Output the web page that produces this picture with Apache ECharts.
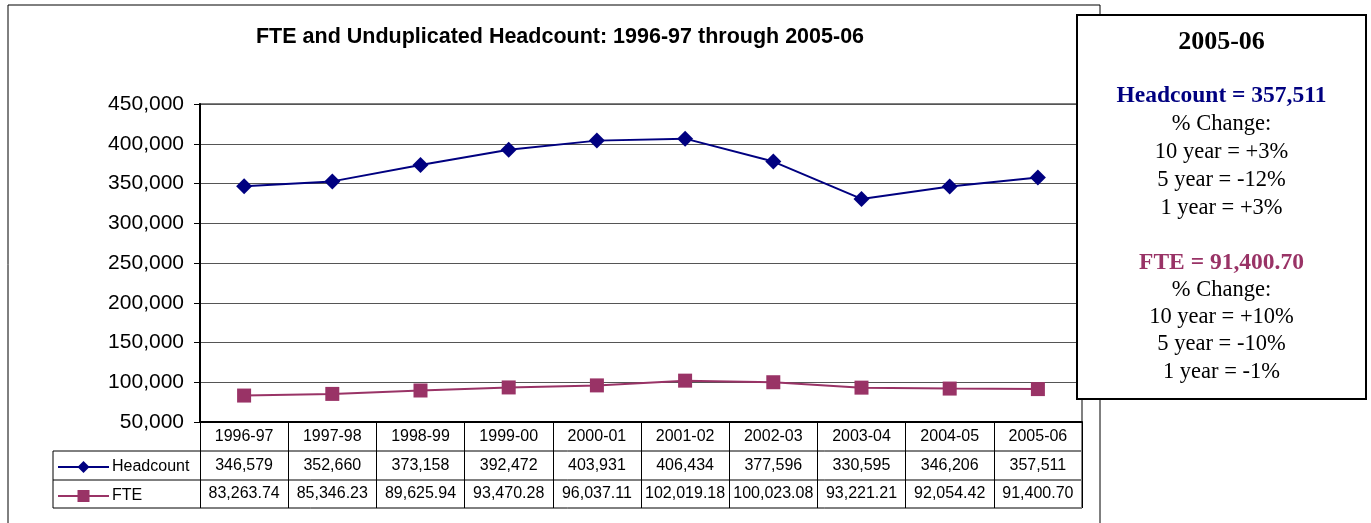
<!DOCTYPE html>
<html><head><meta charset="utf-8">
<script src="https://cdn.jsdelivr.net/npm/echarts@6/dist/echarts.min.js"></script>
<style>html,body{margin:0;padding:0;background:#fff}#c{width:1371px;height:523px}</style>
</head><body><div id="c"></div>
<script>
var categories = ['1996-97','1997-98','1998-99','1999-00','2000-01','2001-02','2002-03','2003-04','2004-05','2005-06'];
var headcount = [346579,352660,373158,392472,403931,406434,377596,330595,346206,357511];
var fte = [83263.74,85346.23,89625.94,93470.28,96037.11,102019.18,100023.08,93221.21,92054.42,91400.70];
var yTicks = {min:50000, max:450000, interval:50000};
var titleText = 'FTE and Unduplicated Headcount: 1996-97 through 2005-06';
var boxLines = [
  {t:'2005-06', s:'head'},
  {t:'', s:'gap'},
  {t:'Headcount = 357,511', s:'hc'},
  {t:'% Change:', s:'n'},
  {t:'10 year = +3%', s:'n'},
  {t:'5 year = -12%', s:'n'},
  {t:'1 year = +3%', s:'n'},
  {t:'', s:'gap'},
  {t:'FTE = 91,400.70', s:'fte'},
  {t:'% Change:', s:'n'},
  {t:'10 year = +10%', s:'n'},
  {t:'5 year = -10%', s:'n'},
  {t:'1 year = -1%', s:'n'}
];

function fmt0(v){return v.toLocaleString('en-US');}
function fmt2(v){return v.toLocaleString('en-US',{minimumFractionDigits:2,maximumFractionDigits:2});}

var chart = echarts.init(document.getElementById('c'));
var GL=200, GR=1082, GT=104, GB=422;
var tableFont = {fontFamily:'Liberation Sans, Arial', fontSize:16, color:'#000'};

var boxGraphics = [];
var bx=1077, by=15, bw=289, bh=384;
boxGraphics.push({type:'rect', shape:{x:bx,y:by,width:bw,height:bh}, style:{fill:'#fff',stroke:'#000',lineWidth:2}, z:100});
var ys = [42,68,96,124,152,180,208,234,263,290,317,344,372];
boxLines.forEach(function(l,i){
  if(!l.t) return;
  var st = {text:l.t, x:bx+bw/2, y:ys[i], align:'center', verticalAlign:'middle', fontFamily:'Liberation Serif, Times New Roman', fontSize:22.5, fill:'#000'};
  if(l.s==='head'){st.fontSize=26;st.fontWeight='bold';}
  if(l.s==='hc'){st.fontSize=23.5;st.fontWeight='bold';st.fill='#000080';}
  if(l.s==='fte'){st.fontSize=23.5;st.fontWeight='bold';st.fill='#993366';}
  boxGraphics.push({type:'text', style:st, z:101});
});

var tableLines = [
  {type:'line', shape:{x1:53,y1:451,x2:GR,y2:451}, style:{stroke:'#000',lineWidth:1}},
  {type:'line', shape:{x1:53,y1:480,x2:GR,y2:480}, style:{stroke:'#000',lineWidth:1}},
  {type:'line', shape:{x1:53,y1:508,x2:GR,y2:508}, style:{stroke:'#000',lineWidth:1}},
  {type:'line', shape:{x1:53,y1:451,x2:53,y2:508}, style:{stroke:'#000',lineWidth:1}},
  {type:'line', shape:{x1:GR,y1:422,x2:GR,y2:508}, style:{stroke:'#808080',lineWidth:2}},
  {type:'rect', shape:{x:8,y:5,width:1092,height:530}, style:{fill:'none',stroke:'#000',lineWidth:1}}
];

chart.setOption({
  animation:false,
  backgroundColor:'#fff',
  title:{text:titleText, left:555, textAlign:'center', top:21, textStyle:{fontFamily:'Liberation Sans, Arial', fontWeight:'bold', fontSize:21.5, color:'#000'}},
  grid:{left:GL, right:1371-GR, top:GT, bottom:523-GB, show:true, borderColor:'#808080', borderWidth:2, backgroundColor:'#fff'},
  legend:{orient:'vertical', left:57, top:459, padding:0, itemGap:13, itemWidth:51, itemHeight:15, textStyle:{fontFamily:'Liberation Sans, Arial', fontSize:16, color:'#000', padding:[0,0,0,-2]}, data:['Headcount','FTE']},
  xAxis:[
    {type:'category', data:categories, position:'bottom', boundaryGap:true,
     axisLine:{lineStyle:{color:'#000',width:2}}, axisTick:{show:true, length:86, lineStyle:{color:'#000',width:1}},
     axisLabel:Object.assign({margin:7, interval:0}, tableFont)},
    {type:'category', data:headcount.map(fmt0), position:'bottom', offset:29, boundaryGap:true,
     axisLine:{show:false}, axisTick:{show:false}, axisLabel:Object.assign({margin:7, interval:0}, tableFont)},
    {type:'category', data:fte.map(fmt2), position:'bottom', offset:58, boundaryGap:true,
     axisLine:{show:false}, axisTick:{show:false}, axisLabel:Object.assign({margin:6, interval:0}, tableFont)}
  ],
  yAxis:{type:'value', min:yTicks.min, max:yTicks.max, interval:yTicks.interval,
    axisLine:{show:true, lineStyle:{color:'#000',width:2}}, axisTick:{show:true, length:6, lineStyle:{color:'#000'}},
    axisLabel:{fontFamily:'Liberation Sans, Arial', fontSize:21, color:'#000', margin:16, formatter:function(v){return fmt0(v);}},
    splitLine:{lineStyle:{color:'#555',width:1}}},
  series:[
    {name:'Headcount', type:'line', data:headcount, xAxisIndex:0, symbol:'diamond', symbolSize:16, color:'#000080', lineStyle:{width:2,color:'#000080'}, itemStyle:{color:'#000080'}},
    {name:'FTE', type:'line', data:fte, xAxisIndex:0, symbol:'rect', symbolSize:14, color:'#993366', lineStyle:{width:2,color:'#993366'}, itemStyle:{color:'#993366'}}
  ],
  graphic: tableLines.concat(boxGraphics)
});
</script></body></html>
